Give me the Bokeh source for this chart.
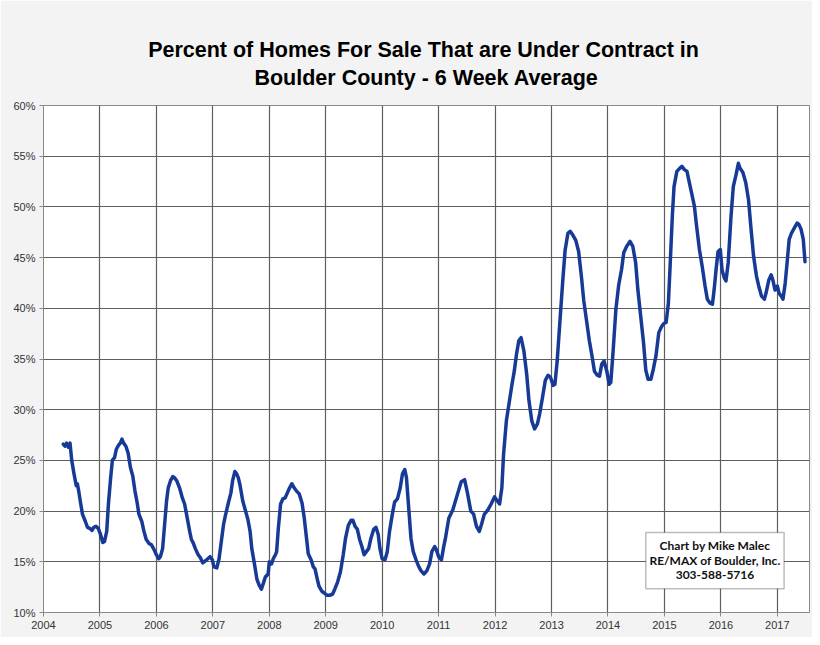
from bokeh.plotting import figure
from bokeh.models import Title, Range1d, FixedTicker, BoxAnnotation, Label
from bokeh.embed import file_html
from bokeh.resources import INLINE

title_line1 = "Percent of Homes For Sale That are Under Contract  in"
title_line2 = "Boulder County - 6 Week Average"
credit_lines = ["Chart by Mike Malec", "RE/MAX of Boulder, Inc.", "303-588-5716"]

x_ticks = list(range(2004, 2018))
x_tick_labels = [str(y) for y in x_ticks]
y_ticks = [10, 15, 20, 25, 30, 35, 40, 45, 50, 55, 60]
y_tick_labels = ["10%", "15%", "20%", "25%", "30%", "35%", "40%", "45%", "50%", "55%", "60%"]

week_year = [
    2004.35, 2004.38, 2004.41, 2004.44, 2004.47, 2004.50, 2004.54, 2004.58, 2004.60, 2004.62,
    2004.66, 2004.69, 2004.74, 2004.78, 2004.82, 2004.86, 2004.89, 2004.93, 2004.97,
    2005.01, 2005.05, 2005.08, 2005.12, 2005.15, 2005.19, 2005.22, 2005.26, 2005.29, 2005.33,
    2005.36, 2005.39, 2005.42, 2005.46, 2005.50, 2005.54, 2005.58, 2005.62, 2005.66, 2005.69,
    2005.74, 2005.78, 2005.82, 2005.87, 2005.91, 2005.95,
    2006.00, 2006.04, 2006.07, 2006.11, 2006.14, 2006.18, 2006.21, 2006.25, 2006.29, 2006.32,
    2006.36, 2006.41, 2006.46, 2006.50, 2006.54, 2006.59, 2006.62, 2006.65, 2006.69, 2006.74,
    2006.78, 2006.82, 2006.87, 2006.91, 2006.95, 2006.99,
    2007.02, 2007.07, 2007.11, 2007.15, 2007.19, 2007.22, 2007.27, 2007.32, 2007.35, 2007.39,
    2007.42, 2007.45, 2007.48, 2007.53, 2007.58, 2007.62, 2007.66, 2007.69, 2007.74, 2007.78,
    2007.82, 2007.86, 2007.89, 2007.93, 2007.98,
    2008.00, 2008.04, 2008.07, 2008.11, 2008.13, 2008.16, 2008.20, 2008.24, 2008.28, 2008.32,
    2008.36, 2008.40, 2008.44, 2008.48, 2008.53, 2008.58, 2008.62, 2008.66, 2008.69, 2008.74,
    2008.78, 2008.81, 2008.85, 2008.88, 2008.93, 2008.98,
    2009.02, 2009.07, 2009.12, 2009.16, 2009.21, 2009.26, 2009.31, 2009.35, 2009.40, 2009.45,
    2009.48, 2009.52, 2009.56, 2009.60, 2009.64, 2009.68, 2009.72, 2009.76, 2009.80, 2009.85,
    2009.89, 2009.93, 2009.96,
    2010.00, 2010.05, 2010.09, 2010.13, 2010.18, 2010.22, 2010.27, 2010.32, 2010.36, 2010.40,
    2010.43, 2010.47, 2010.51, 2010.55, 2010.60, 2010.65, 2010.69, 2010.74, 2010.79, 2010.84,
    2010.88, 2010.93, 2010.96,
    2011.00, 2011.05, 2011.09, 2011.12, 2011.18, 2011.25, 2011.33, 2011.40, 2011.46, 2011.51,
    2011.57, 2011.62, 2011.67, 2011.72, 2011.76, 2011.81, 2011.87, 2011.93, 2011.99,
    2012.04, 2012.08, 2012.12, 2012.15, 2012.20, 2012.25, 2012.30, 2012.34, 2012.38, 2012.42,
    2012.46, 2012.51, 2012.56, 2012.60, 2012.65, 2012.70, 2012.75, 2012.79, 2012.84, 2012.89,
    2012.94, 2012.98,
    2013.03, 2013.06, 2013.10, 2013.15, 2013.20, 2013.24, 2013.29, 2013.33, 2013.38, 2013.43,
    2013.48, 2013.53, 2013.57, 2013.62, 2013.67, 2013.72, 2013.76, 2013.81, 2013.85, 2013.89,
    2013.93, 2013.98,
    2014.02, 2014.05, 2014.09, 2014.14, 2014.19, 2014.24, 2014.28, 2014.33, 2014.39, 2014.44,
    2014.49, 2014.53, 2014.58, 2014.63, 2014.67, 2014.71, 2014.76, 2014.80, 2014.85, 2014.90,
    2014.95, 2014.99,
    2015.03, 2015.07, 2015.10, 2015.14, 2015.17, 2015.22, 2015.27, 2015.31, 2015.35, 2015.40,
    2015.43, 2015.48, 2015.53, 2015.57, 2015.62, 2015.67, 2015.72, 2015.76, 2015.81, 2015.85,
    2015.88, 2015.92, 2015.95, 2015.99,
    2016.02, 2016.06, 2016.09, 2016.13, 2016.18, 2016.22, 2016.27, 2016.31, 2016.34, 2016.39,
    2016.44, 2016.49, 2016.53, 2016.58, 2016.63, 2016.67, 2016.72, 2016.77, 2016.80, 2016.85,
    2016.89, 2016.92, 2016.96,
    2017.00, 2017.03, 2017.07, 2017.10, 2017.14, 2017.17, 2017.21, 2017.25, 2017.30, 2017.35,
    2017.38, 2017.42, 2017.46, 2017.49,
]

pct_under_contract = [
    26.6, 26.4, 26.7, 26.3, 26.7, 25.0, 23.7, 22.5, 22.7, 22.1,
    20.7, 19.7, 19.0, 18.4, 18.3, 18.1, 18.4, 18.5, 18.3,
    17.7, 16.9, 17.0, 18.0, 20.7, 23.3, 25.0, 25.3, 26.1, 26.5,
    26.7, 27.1, 26.7, 26.4, 25.7, 24.3, 23.5, 22.0, 20.8, 19.7,
    19.0, 18.0, 17.2, 16.8, 16.7, 16.3,
    15.7, 15.3, 15.5, 16.3, 18.3, 21.0, 22.3, 23.0, 23.4, 23.3,
    23.0, 22.3, 21.3, 20.7, 19.5, 18.0, 17.2, 16.9, 16.3, 15.7,
    15.4, 14.9, 15.1, 15.3, 15.5, 15.2,
    14.5, 14.4, 15.3, 17.0, 18.7, 19.5, 20.7, 21.8, 23.0, 23.9,
    23.7, 23.3, 22.6, 21.0, 20.0, 19.2, 18.0, 16.3, 14.7, 13.3,
    12.7, 12.3, 12.8, 13.5, 13.8,
    15.0, 14.8, 15.3, 15.7, 16.0, 18.3, 20.7, 21.2, 21.3, 21.8,
    22.3, 22.7, 22.3, 22.0, 21.7, 20.8, 19.3, 17.3, 15.8, 15.2,
    14.5, 14.3, 13.3, 12.6, 12.1, 11.9,
    11.7, 11.7, 11.8, 12.3, 13.0, 14.0, 15.7, 17.3, 18.6, 19.1,
    19.1, 18.5, 18.2, 17.2, 16.5, 15.7, 16.0, 16.3, 17.3, 18.2,
    18.4, 17.7, 16.3,
    15.3, 15.2, 16.0, 18.0, 19.7, 20.9, 21.2, 22.3, 23.7, 24.1,
    23.3, 20.3, 17.3, 16.0, 15.2, 14.5, 14.1, 13.8, 14.1, 14.8,
    16.0, 16.5, 16.2,
    15.5, 15.2, 16.5, 17.3, 19.3, 20.1, 21.6, 22.9, 23.1, 21.8,
    20.0, 19.7, 18.5, 18.0, 18.7, 19.7, 20.1, 20.7, 21.4,
    21.0, 20.7, 22.3, 25.6, 28.9, 30.7, 32.5, 33.8, 35.5, 36.8,
    37.1, 35.8, 33.5, 30.9, 28.9, 28.1, 28.6, 29.6, 31.2, 32.9,
    33.4, 33.2,
    32.4, 32.5, 34.8, 38.8, 42.8, 45.7, 47.4, 47.6, 47.2, 46.7,
    45.6, 43.1, 40.8, 38.8, 36.8, 35.2, 33.8, 33.4, 33.3, 34.5,
    34.8, 33.8,
    32.5, 32.7, 35.7, 39.9, 42.3, 43.8, 45.5, 46.1, 46.6, 46.1,
    44.5, 41.8, 39.2, 36.6, 33.9, 33.0, 33.0, 33.9, 35.3, 37.6,
    38.2, 38.5,
    38.6, 40.5, 44.1, 49.1, 52.0, 53.5, 53.8, 54.0, 53.7, 53.5,
    52.7, 51.4, 50.1, 48.1, 45.8, 44.1, 42.2, 40.9, 40.5, 40.4,
    41.8, 44.1, 45.6, 45.8,
    43.8, 43.0, 42.7, 44.5, 49.1, 52.0, 53.2, 54.3, 53.8, 53.4,
    52.4, 50.7, 48.1, 45.1, 43.2, 42.2, 41.2, 40.9, 41.5, 42.8,
    43.3, 42.8, 41.8,
    42.2, 41.5, 41.2, 40.9, 42.5, 44.3, 46.8, 47.4, 47.9, 48.4,
    48.3, 47.8, 46.8, 44.6,
]

BG = "#f3f3f3"
GRID = "#5e5e5e"
TITLE_FONT = "'Liberation Sans Narrow', 'Liberation Sans', Arial, sans-serif"
LABEL_FONT = "'Liberation Sans', Arial, sans-serif"

p = figure(
    width=812, height=637,
    output_backend="svg", toolbar_location=None,
    x_range=Range1d(2004, 2017.57), y_range=Range1d(10, 60),
    min_border_left=43, min_border_right=3, min_border_top=105, min_border_bottom=25,
    background_fill_color="white", border_fill_color=BG,
)

# two centred title lines; the first one added sits closest to the frame
t2 = Title(text=title_line2, align="center", text_font=TITLE_FONT, text_font_size="21.5px",
           text_font_style="bold", text_color="black", standoff=31)
t1 = Title(text=title_line1, align="center", text_font=TITLE_FONT, text_font_size="21.5px",
           text_font_style="bold", text_color="black", standoff=-26)
p.add_layout(t2, "above")
p.add_layout(t1, "above")

p.outline_line_color = "#8a8a8a"
p.outline_line_width = 1

for ax in (p.xaxis[0], p.yaxis[0]):
    ax.axis_line_color = "#8a8a8a"
    ax.major_tick_line_color = "#8a8a8a"
    ax.major_tick_in = 0
    ax.major_tick_out = 4
    ax.minor_tick_line_color = None
    ax.major_label_text_font = LABEL_FONT
    ax.major_label_text_font_size = "11px"
    ax.major_label_text_color = "#333333"

p.xaxis.ticker = FixedTicker(ticks=x_ticks)
p.xaxis.major_label_overrides = dict(zip(x_ticks, x_tick_labels))
p.xaxis.major_label_standoff = 4
p.yaxis.ticker = FixedTicker(ticks=y_ticks)
p.yaxis.major_label_overrides = dict(zip(y_ticks, y_tick_labels))
p.yaxis.major_label_standoff = 4

p.xgrid.grid_line_color = GRID
p.ygrid.grid_line_color = GRID
p.xgrid.grid_line_width = 1.2
p.ygrid.grid_line_width = 1.2

p.line(week_year, pct_under_contract, line_color="#173a96", line_width=3.5,
       line_join="round", line_cap="round")

# credit box
box = BoxAnnotation(left=2014.67, right=2017.12, top=17.9, bottom=12.35,
                    fill_color="white", fill_alpha=1.0, line_color="#222222", line_width=1.5)
p.add_layout(box)
credit_y = [16.6, 15.1, 13.65]
for txt, yy in zip(credit_lines, credit_y):
    p.add_layout(Label(x=2015.895, y=yy, text=txt, text_align="center", text_baseline="middle",
                       text_font="Lato", text_font_style="bold", text_font_size="12px",
                       text_color="#111111"))

open("out.html", "w").write(file_html(p, INLINE))
